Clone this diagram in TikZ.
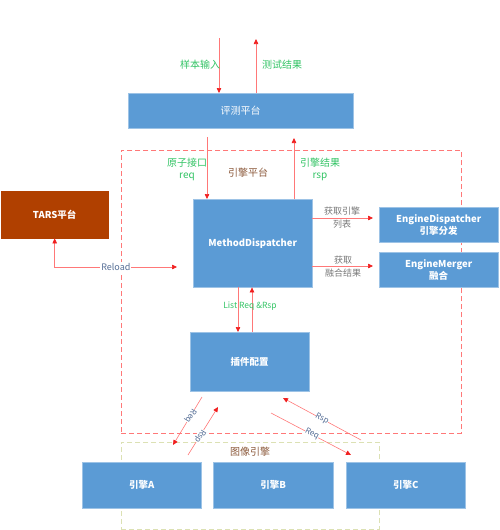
\documentclass[tikz,border=0pt]{standalone}
\usepackage{fontspec}
\setmainfont{Noto Sans CJK SC}
\usetikzlibrary{arrows.meta}
\definecolor{boxblue}{RGB}{91,155,213}
\definecolor{tarsbrown}{RGB}{176,64,0}
\definecolor{arrred}{RGB}{255,120,120}
\definecolor{tipred}{RGB}{240,30,30}
\definecolor{lblgreen}{RGB}{50,195,100}
\definecolor{lblbrown}{RGB}{140,90,60}
\definecolor{lblblue}{RGB}{85,110,150}
\definecolor{lblgrey}{RGB}{120,120,120}
\definecolor{oliveline}{RGB}{220,225,180}
\begin{document}
\begin{tikzpicture}[x=1pt,y=-1pt,
  box/.style={draw=boxblue!60!white, fill=boxblue, text=white, inner sep=0pt,
    anchor=north west, align=center, font=\bfseries\fontsize{9.5}{12}\selectfont},
  conn/.style={draw=arrred, line width=0.6pt, -{Triangle[length=5pt,width=4.5pt,color=tipred]}},
  bothconn/.style={draw=arrred, line width=0.6pt, {Triangle[length=5pt,width=4.5pt,color=tipred]}-{Triangle[length=5pt,width=4.5pt,color=tipred]}},
  greenlbl/.style={text=lblgreen, align=center, font=\fontsize{10}{12}\selectfont},
  brownlbl/.style={text=lblbrown, font=\fontsize{10}{12}\selectfont},
  greylbl/.style={text=lblgrey, align=center, font=\fontsize{9}{13}\selectfont},
  bluelbl/.style={text=lblblue, fill=white, inner sep=0pt, font=\fontsize{8}{9}\selectfont},
  region/.style={anchor=north west, inner sep=0pt, dash pattern=on 5pt off 3pt, line width=0.7pt}
]
\useasboundingbox (0,0) rectangle (500,530);

% regions
\node[region, draw=arrred, minimum width=340, minimum height=283] (engplat) at (121,150) {};
\node[region, draw=oliveline, minimum width=258, minimum height=87] (imgeng) at (121,442) {};
\node[brownlbl] (engplatlbl) at (248,173) {引擎平台};
\node[brownlbl] (imgenglbl) at (250,452) {图像引擎};

% boxes
\node[box, minimum width=225, minimum height=35, font=\fontsize{10}{12}\selectfont] (eval) at (128,93) {评测平台};
\node[box, minimum width=119, minimum height=88] (md) at (193,199) {MethodDispatcher};
\node[box, fill=tarsbrown, draw=tarsbrown, minimum width=107, minimum height=47] (tars) at (1,191) {TARS平台};
\node[box, minimum width=119, minimum height=35] (ed) at (379,207) {EngineDispatcher\\引擎分发};
\node[box, minimum width=119, minimum height=35] (em) at (379,252) {EngineMerger\\融合};
\node[box, minimum width=119, minimum height=59] (plug) at (190,332) {插件配置};
\node[box, minimum width=119, minimum height=46] (ea) at (82,462) {引擎A};
\node[box, minimum width=120, minimum height=46] (eb) at (213,462) {引擎B};
\node[box, minimum width=119, minimum height=46] (ec) at (346,462) {引擎C};

% top arrows
\coordinate (in1) at (219,38);
\coordinate (out1) at (256,39);
\draw[conn] (in1) -- (in1 |- eval.north);
\draw[conn] (out1 |- eval.north) -- (out1);
\node[greenlbl] (inlbl) at (200,65) {样本输入};
\node[greenlbl] (outlbl) at (282,65) {测试结果};

% req / rsp
\coordinate (rq) at (207,137);
\coordinate (rs) at (294,138);
\draw[conn] (rq) -- (rq |- md.north);
\draw[conn] (rs |- md.north) -- (rs);
\node[greenlbl] (rqlbl) at (187,169) {原子接口\\req};
\node[greenlbl] (rslbl) at (320,169) {引擎结果\\rsp};

% reload
\coordinate (rl) at (177,267);
\draw[bothconn] (tars.south) |- (rl) node[pos=0.75, bluelbl, inner sep=1pt, font=\fontsize{9}{10}\selectfont] {Reload};

% right arrows
\coordinate (a1) at (373,218);
\coordinate (a2) at (373,266);
\draw[conn] (a1 -| md.east) -- (a1);
\draw[conn] (a2 -| md.east) -- (a2);
\node[greylbl] (a1lbl) at (342,217.5) {获取引擎\\列表};
\node[greylbl] (a2lbl) at (343,266.5) {获取\\融合结果};

% list req rsp
\coordinate (lq) at (238,0);
\coordinate (ls) at (252,0);
\draw[conn] (lq |- md.south) -- (lq |- plug.north);
\draw[conn] (ls |- plug.north) -- (ls |- md.south);
\node[greenlbl, font=\fontsize{8.5}{10}\selectfont] (llbl) at (250,306) {List Req \&Rsp};

% diagonal arrows
\coordinate (qa1) at (202,397); \coordinate (qa2) at (173,445);
\coordinate (sa1) at (188,455); \coordinate (sa2) at (218,407);
\coordinate (qc1) at (271,413); \coordinate (qc2) at (351,455);
\coordinate (sc1) at (361,440); \coordinate (sc2) at (283,398);
\draw[conn] (qa1) -- (qa2);
\draw[conn] (sa1) -- (sa2);
\draw[conn] (qc1) -- (qc2);
\draw[conn] (sc1) -- (sc2);
\node[bluelbl, rotate=-121] (qalbl) at (190.5,416) {Req};
\node[bluelbl, rotate=-122] (salbl) at (200,436) {Rsp};
\node[bluelbl, rotate=-28] (sclbl) at (322,419) {Rsp};
\node[bluelbl, rotate=-28] (qclbl) at (312,434) {Req};
\end{tikzpicture}
\end{document}
